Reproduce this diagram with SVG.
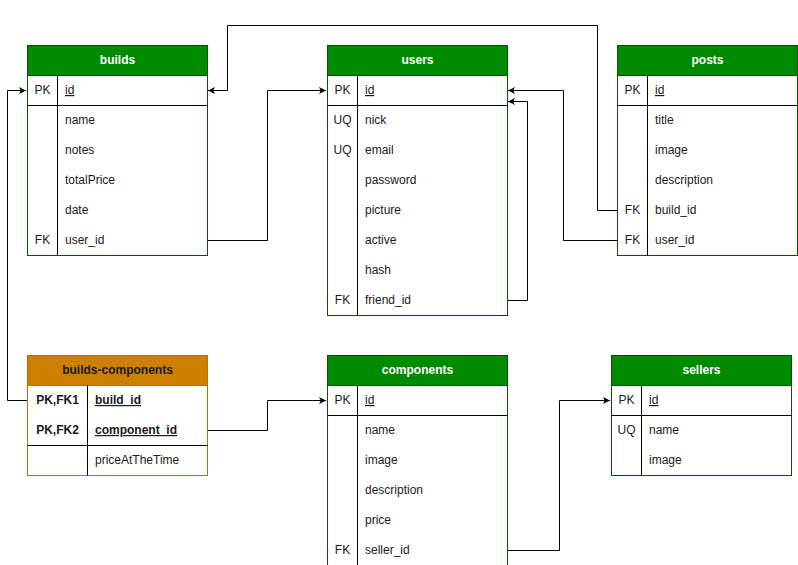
<svg xmlns="http://www.w3.org/2000/svg" width="798" height="565" viewBox="0 0 798 565">
<style>
text{font-family:"Liberation Sans",Arial,sans-serif;font-size:12px;fill:#1a1a1a}
.hd{font-weight:bold;fill:#fff;text-anchor:middle}
.hdo{font-weight:bold;fill:#1a1a1a;text-anchor:middle}
.k{text-anchor:middle}
.u{text-decoration:underline}
.b{font-weight:bold}
.gbox{fill:#fff;stroke:#005700;stroke-width:1}
.ghead{fill:#008a00;stroke:#005700;stroke-width:1}
.obox{fill:#fff;stroke:#BD7000;stroke-width:1}
.ohead{fill:#CD8000;stroke:#BD7000;stroke-width:1}
.sep{stroke:#000;stroke-width:1}
.div{stroke:#000;stroke-width:1}
.c{fill:none;stroke:#000;stroke-width:1}
</style>
<defs>
<marker id="ar" viewBox="0 0 10 10" refX="10" refY="5" markerWidth="7" markerHeight="7" markerUnits="userSpaceOnUse" orient="auto">
<path d="M0,0 L10,5 L0,10 L2.5,5 Z" fill="#000"/>
</marker>
</defs>

<g id="connectors">
<path class="c" d="M207.5,240.5 H267.5 V90.5 H326" marker-end="url(#ar)"/>
<path class="c" d="M617.5,210.5 H597.5 V25.5 H227.5 V90.5 H208" marker-end="url(#ar)"/>
<path class="c" d="M617.5,240.5 H563.5 V90.5 H508" marker-end="url(#ar)"/>
<path class="c" d="M507.5,300.5 H527.5 V101.5 H508" marker-end="url(#ar)"/>
<path class="c" d="M27.5,400.5 H7.5 V90.5 H26" marker-end="url(#ar)"/>
<path class="c" d="M207.5,430.5 H267.5 V400.5 H326" marker-end="url(#ar)"/>
<path class="c" d="M507.5,550.5 H559.5 V400.5 H610" marker-end="url(#ar)"/>
</g>

<g id="builds">
<rect class="gbox" x="27.5" y="45.5" width="180" height="210"/>
<rect class="ghead" x="27.5" y="45.5" width="180" height="30"/>
<text class="hd" x="117.5" y="64">builds</text>
<line class="div" x1="57.5" y1="75.5" x2="57.5" y2="255.5"/>
<line class="sep" x1="27.5" y1="105.5" x2="207.5" y2="105.5"/>
<text class="k" x="42.5" y="94">PK</text><text class="u" x="65" y="94">id</text>
<text x="65" y="124">name</text>
<text x="65" y="154">notes</text>
<text x="65" y="184">totalPrice</text>
<text x="65" y="214">date</text>
<text class="k" x="42.5" y="244">FK</text><text x="65" y="244">user_id</text>
</g>

<g id="users">
<rect class="gbox" x="327.5" y="45.5" width="180" height="270"/>
<rect class="ghead" x="327.5" y="45.5" width="180" height="30"/>
<text class="hd" x="417.5" y="64">users</text>
<line class="div" x1="357.5" y1="75.5" x2="357.5" y2="315.5"/>
<line class="sep" x1="327.5" y1="105.5" x2="507.5" y2="105.5"/>
<text class="k" x="342.5" y="94">PK</text><text class="u" x="365" y="94">id</text>
<text class="k" x="342.5" y="124">UQ</text><text x="365" y="124">nick</text>
<text class="k" x="342.5" y="154">UQ</text><text x="365" y="154">email</text>
<text x="365" y="184">password</text>
<text x="365" y="214">picture</text>
<text x="365" y="244">active</text>
<text x="365" y="274">hash</text>
<text class="k" x="342.5" y="304">FK</text><text x="365" y="304">friend_id</text>
</g>

<g id="posts">
<rect class="gbox" x="617.5" y="45.5" width="180" height="210"/>
<rect class="ghead" x="617.5" y="45.5" width="180" height="30"/>
<text class="hd" x="707.5" y="64">posts</text>
<line class="div" x1="647.5" y1="75.5" x2="647.5" y2="255.5"/>
<line class="sep" x1="617.5" y1="105.5" x2="797.5" y2="105.5"/>
<text class="k" x="632.5" y="94">PK</text><text class="u" x="655" y="94">id</text>
<text x="655" y="124">title</text>
<text x="655" y="154">image</text>
<text x="655" y="184">description</text>
<text class="k" x="632.5" y="214">FK</text><text x="655" y="214">build_id</text>
<text class="k" x="632.5" y="244">FK</text><text x="655" y="244">user_id</text>
</g>

<g id="builds-components">
<rect class="obox" x="27.5" y="355.5" width="180" height="120"/>
<rect class="ohead" x="27.5" y="355.5" width="180" height="30"/>
<text class="hdo" x="117.5" y="374">builds-components</text>
<line class="div" x1="87.5" y1="385.5" x2="87.5" y2="475.5"/>
<line class="sep" x1="27.5" y1="445.5" x2="207.5" y2="445.5"/>
<text class="k b" x="57.5" y="404">PK,FK1</text><text class="b u" x="95" y="404">build_id</text>
<text class="k b" x="57.5" y="434">PK,FK2</text><text class="b u" x="95" y="434">component_id</text>
<text x="95" y="464">priceAtTheTime</text>
</g>

<g id="components">
<rect class="gbox" x="327.5" y="355.5" width="180" height="210"/>
<rect class="ghead" x="327.5" y="355.5" width="180" height="30"/>
<text class="hd" x="417.5" y="374">components</text>
<line class="div" x1="357.5" y1="385.5" x2="357.5" y2="565.5"/>
<line class="sep" x1="327.5" y1="415.5" x2="507.5" y2="415.5"/>
<text class="k" x="342.5" y="404">PK</text><text class="u" x="365" y="404">id</text>
<text x="365" y="434">name</text>
<text x="365" y="464">image</text>
<text x="365" y="494">description</text>
<text x="365" y="524">price</text>
<text class="k" x="342.5" y="554">FK</text><text x="365" y="554">seller_id</text>
</g>

<g id="sellers">
<rect class="gbox" x="611.5" y="355.5" width="180" height="120"/>
<rect class="ghead" x="611.5" y="355.5" width="180" height="30"/>
<text class="hd" x="701.5" y="374">sellers</text>
<line class="div" x1="641.5" y1="385.5" x2="641.5" y2="475.5"/>
<line class="sep" x1="611.5" y1="415.5" x2="791.5" y2="415.5"/>
<text class="k" x="626.5" y="404">PK</text><text class="u" x="649" y="404">id</text>
<text class="k" x="626.5" y="434">UQ</text><text x="649" y="434">name</text>
<text x="649" y="464">image</text>
</g>
</svg>
